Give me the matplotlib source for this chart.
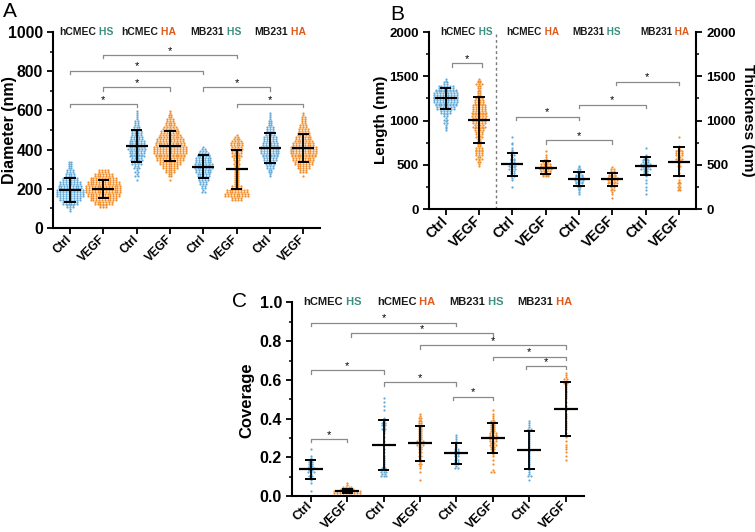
import numpy as np
import matplotlib
matplotlib.use("Agg")
import matplotlib.pyplot as plt
from matplotlib.ticker import MultipleLocator, FormatStrFormatter

plt.rcParams['font.family'] = ['Liberation Sans', 'DejaVu Sans']
plt.rcParams['font.weight'] = 'bold'

# x categories (same in all panels)
groups = ['Ctrl', 'VEGF', 'Ctrl', 'VEGF', 'Ctrl', 'VEGF', 'Ctrl', 'VEGF']
header_cells = ['hCMEC', 'hCMEC', 'MB231', 'MB231']
header_types = ['HS', 'HA', 'HS', 'HA']

# Panel A: diameter (nm) - dot counts per 20 nm bin, starting at a_lo
a_step = 20
a_lo = [80, 100, 240, 240, 180, 140, 260, 260]
a_counts = [
    [2, 6, 12, 16, 20, 20, 18, 16, 12, 8, 6, 4, 4],
    [6, 14, 20, 24, 26, 26, 24, 20, 14, 8],
    [1, 3, 3, 5, 7, 9, 11, 12, 13, 12, 11, 9, 8, 6, 4, 3, 2, 2],
    [1, 4, 8, 12, 16, 20, 22, 24, 24, 22, 20, 17, 14, 11, 8, 6, 4, 2],
    [3, 4, 6, 8, 10, 12, 13, 13, 12, 10, 7, 3],
    [8, 18, 16, 8, 4, 4, 4, 4, 4, 5, 6, 7, 8, 9, 10, 7, 3],
    [2, 4, 6, 8, 10, 12, 14, 14, 12, 10, 9, 7, 6, 4, 3, 2, 1],
    [1, 6, 10, 14, 16, 18, 20, 20, 16, 13, 11, 9, 7, 5, 4, 3, 1],
]
a_mean = [194, 199, 418, 418, 313, 299, 407, 410]
a_sd = [61, 47, 80, 77, 60, 100, 77, 72]
a_sig = [(1, 5, 802), (2, 6, 883), (2, 4, 719), (1, 3, 633), (5, 7, 719), (6, 8, 633)]

# Panel B: length / thickness (nm) - counts per 40 nm bin
b_step = 40
b_lo = [880, 480, 240, 360, 160, 120, 160, 200]
b_counts = [
    [2, 2, 3, 3, 4, 8, 14, 16, 18, 18, 18, 16, 12, 4, 2],
    [2, 3, 5, 6, 6, 5, 4, 4, 5, 6, 8, 9, 10, 10, 11, 11, 10, 9, 8, 6, 4, 3, 4, 5, 3],
    [1, 0, 2, 4, 4, 5, 5, 4, 3, 3, 2, 1, 2, 0, 1],
    [6, 8, 10, 8, 5, 2, 1, 1],
    [2, 2, 3, 6, 8, 6, 4, 3, 1],
    [1, 2, 3, 4, 7, 8, 6, 4, 3],
    [1, 1, 1, 1, 1, 2, 4, 7, 8, 6, 4, 1, 0, 1],
    [3, 3, 3, 1, 1, 1, 2, 3, 4, 5, 6, 5, 2, 0, 0, 1],
]
b_mean = [1251, 1006, 505, 467, 339, 335, 486, 535]
b_sd = [118, 263, 132, 70, 76, 72, 98, 162]
b_sig = [(1.2, 2.1, 1650), (3.1, 5, 1043), (4, 6, 780), (5, 7, 1179), (6.1, 8, 1438)]

# Panel C: coverage - counts per 0.02 bin
c_step = 0.02
c_lo = [0.02, 0.01, 0.10, 0.08, 0.14, 0.12, 0.08, 0.18]
c_counts = [
    [1, 0, 1, 2, 3, 5, 5, 4, 3, 1, 0, 1],
    [20, 9, 2],
    [5, 5, 3, 2, 2, 1, 1, 1, 1, 1, 1, 2, 3, 4, 2, 1, 0, 1, 1, 1, 1],
    [1, 0, 1, 2, 3, 3, 3, 3, 4, 5, 5, 4, 4, 4, 4, 3, 3, 1],
    [3, 4, 3, 4, 4, 3, 2, 2, 2],
    [3, 0, 1, 1, 2, 3, 4, 5, 6, 7, 5, 4, 4, 3, 2, 1, 1],
    [1, 3, 2, 2, 2, 2, 2, 2, 2, 2, 2, 2, 2, 3, 2, 1],
    [1, 1, 1, 2, 1, 1, 1, 1, 2, 2, 1, 2, 1, 1, 1, 1, 2, 2, 2, 2, 3, 3, 2],
]
c_mean = [0.138, 0.028, 0.262, 0.272, 0.22, 0.301, 0.238, 0.45]
c_sd = [0.05, 0.01, 0.13, 0.09, 0.055, 0.078, 0.10, 0.14]
c_sig = [(1, 5, 0.896), (2.1, 6, 0.84), (4, 8, 0.78), (6, 8, 0.72), (6.9, 8, 0.672),
         (1, 3, 0.651), (3, 5, 0.588), (4.9, 6, 0.513), (1, 2, 0.295)]

BLUE = '#62aad8'
ORANGE = '#f28e2b'
HS_COL = '#3b8f80'
HA_COL = '#e05a1c'
GREY = '#8a8a8a'
pos = np.arange(1, 9)


def swarm(ax, x, lo, step, counts, color, dx):
    xs, ys = [], []
    for i, n in enumerate(counts):
        base = lo + i * step
        k1 = (n + 1) // 2
        for row, m in ((0, k1), (1, n - k1)):
            y = base + step * (0.25 + 0.5 * row)
            for j in range(m):
                xs.append(x + (j - (m - 1) / 2) * dx)
                ys.append(y)
    ax.scatter(xs, ys, s=2.6, c=color, linewidths=0, zorder=2)


def mean_sd(ax, means, sds, half=0.33, cap=0.17):
    for x, m, s in zip(pos, means, sds):
        ax.hlines(m, x - half, x + half, color='black', lw=1.6, zorder=4)
        ax.vlines(x, m - s, m + s, color='black', lw=1.3, zorder=4)
        ax.hlines([m - s, m + s], x - cap, x + cap, color='black', lw=1.4, zorder=4)


def brackets(ax, sig, drop, fs=8):
    for x1, x2, y in sig:
        ax.plot([x1, x1, x2, x2], [y - drop, y, y, y - drop], color=GREY, lw=0.9,
                zorder=3, clip_on=False)
        ax.annotate('*', ((x1 + x2) / 2, y), xytext=(0, -0.5), textcoords='offset points',
                    ha='center', va='bottom', fontsize=fs, fontweight='normal')


def header(ax, xs, fs):
    tr = ax.get_xaxis_transform()
    for x, cell, t in zip(xs, header_cells, header_types):
        ax.text(x, 1.0, cell, transform=tr, ha='right', va='center', fontsize=fs,
                fontweight='bold', color='#1a1a1a')
        ax.text(x, 1.0, ' ' + t, transform=tr, ha='left', va='center', fontsize=fs,
                fontweight='bold', color=HS_COL if t == 'HS' else HA_COL)


def style(ax, ytick_fs, xtick_fs, xpad=3):
    for side in ['top', 'right']:
        ax.spines[side].set_visible(False)
    for side in ['left', 'bottom']:
        ax.spines[side].set_linewidth(1.5)
    ax.set_xlim(0.5, 8.5)
    ax.set_xticks(pos)
    ax.set_xticklabels(groups, rotation=45, ha='right', va='center',
                       rotation_mode='anchor', fontsize=xtick_fs, fontweight='bold')
    ax.tick_params(axis='x', which='major', pad=xpad)
    ax.tick_params(axis='both', which='major', length=4, width=1.3, direction='out')
    ax.tick_params(axis='y', which='minor', length=2.5, width=1.1, direction='out')
    ax.tick_params(axis='y', labelsize=ytick_fs)
    for lab in ax.get_yticklabels():
        lab.set_fontweight('bold')


fig = plt.figure(figsize=(7.55, 5.32), dpi=100)

# ---- A ----
axA = fig.add_axes([0.0706, 0.5714, 0.3532, 0.3684])
for i in range(8):
    swarm(axA, pos[i], a_lo[i], a_step, a_counts[i], BLUE if i % 2 == 0 else ORANGE, 0.085)
mean_sd(axA, a_mean, a_sd)
brackets(axA, a_sig, 18)
axA.set_ylim(0, 1000)
axA.yaxis.set_major_locator(MultipleLocator(200))
axA.yaxis.set_minor_locator(MultipleLocator(100))
style(axA, 11.3, 8.5)
header(axA, [1.78, 3.64, 5.61, 7.55], 7.5)

# ---- B ----
axB = fig.add_axes([0.5682, 0.6071, 0.3532, 0.3327])
for i in range(8):
    swarm(axB, pos[i], b_lo[i], b_step, b_counts[i], BLUE if i % 2 == 0 else ORANGE, 0.085)
mean_sd(axB, b_mean, b_sd)
brackets(axB, b_sig, 40)
axB.axvline(2.5, color='#777777', lw=1.0, ls=(0, (2, 2)), zorder=1)
axB.set_ylim(0, 2000)
axB.yaxis.set_major_locator(MultipleLocator(500))
axB.yaxis.set_minor_locator(MultipleLocator(250))
style(axB, 9.5, 10)
header(axB, [1.91, 3.89, 5.76, 7.8], 7.2)
axB2 = axB.twinx()
axB2.set_ylim(0, 2000)
axB2.yaxis.set_major_locator(MultipleLocator(500))
axB2.yaxis.set_minor_locator(MultipleLocator(250))
for side in ['top', 'left', 'bottom']:
    axB2.spines[side].set_visible(False)
axB2.spines['right'].set_linewidth(1.5)
axB2.tick_params(axis='y', which='major', length=4, width=1.3, labelsize=9.5)
axB2.tick_params(axis='y', which='minor', length=2.5, width=1.1)
for lab in axB2.get_yticklabels():
    lab.set_fontweight('bold')

# ---- C ----
axC = fig.add_axes([0.3874, 0.0677, 0.3861, 0.3637])
for i in range(8):
    swarm(axC, pos[i], c_lo[i], c_step, c_counts[i], BLUE if i % 2 == 0 else ORANGE, 0.078)
mean_sd(axC, c_mean, c_sd, half=0.33, cap=0.15)
brackets(axC, c_sig, 0.018)
axC.set_ylim(0, 1.0)
axC.yaxis.set_major_locator(MultipleLocator(0.2))
axC.yaxis.set_minor_locator(MultipleLocator(0.1))
axC.yaxis.set_major_formatter(FormatStrFormatter('%.1f'))
style(axC, 11.5, 8.8, xpad=1.5)
header(axC, [1.89, 3.9, 5.79, 7.64], 8)

# axis titles and panel letters
fig.text(10 / 755, 1 - 130 / 532, 'Diameter (nm)', rotation=90, ha='center', va='center',
         fontsize=11.5, fontweight='bold')
fig.text(381 / 755, 1 - 120 / 532, 'Length (nm)', rotation=90, ha='center', va='center',
         fontsize=11, fontweight='bold')
fig.text(748 / 755, 1 - 120 / 532, 'Thickness (nm)', rotation=270, ha='center', va='center',
         fontsize=11, fontweight='bold')
fig.text(247 / 755, 1 - 400 / 532, 'Coverage', rotation=90, ha='center', va='center',
         fontsize=12, fontweight='bold')
fig.text(3 / 755, 1 - 2 / 532, 'A', ha='left', va='top', fontsize=15, fontweight='normal')
fig.text(390 / 755, 1 - 5 / 532, 'B', ha='left', va='top', fontsize=15, fontweight='normal')
fig.text(232 / 755, 1 - 292 / 532, 'C', ha='left', va='top', fontsize=15, fontweight='normal')

fig.savefig('out.png', dpi=100)
